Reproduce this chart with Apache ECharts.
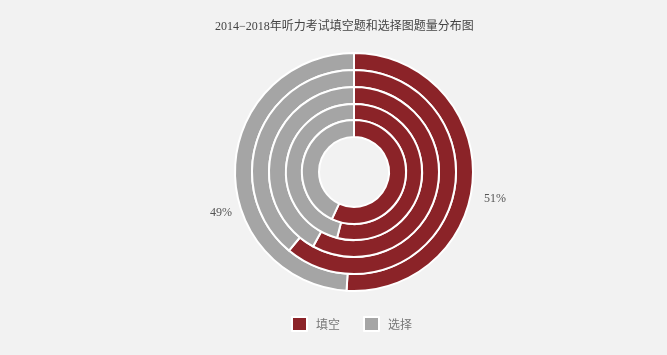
<!DOCTYPE html>
<html>
<head>
<meta charset="utf-8">
<script src="https://cdn.jsdelivr.net/npm/echarts@6/dist/echarts.min.js"></script>
<style>
html,body{margin:0;padding:0;background:#f2f2f2;}
#main{width:667px;height:355px;}
</style>
</head>
<body>
<div id="main"></div>
<script>
// Data (outer ring to inner ring)
const categories = ['填空', '选择'];
const ringNames = ['环1', '环2', '环3', '环4', '环5'];
const fillBlank = [51, 61, 58, 54, 57];
const choice = [49, 39, 42, 46, 43];

const colors = ['#8b2328', '#a5a5a5'];
const radii = [[102, 119], [85, 102], [68, 85], [52, 68], [35, 52]];
const labelDx = [-4, 12];
const labelDy = [23, 45];

const series = ringNames.map(function (name, i) {
  return {
    name: name,
    type: 'pie',
    center: [354, 172],
    radius: radii[i],
    startAngle: 90,
    clockwise: true,
    silent: true,
    itemStyle: { borderColor: '#ffffff', borderWidth: 2 },
    label: i === 0 ? {
      show: true,
      position: 'outside',
      formatter: '{d}%',
      fontFamily: 'Liberation Serif',
      fontSize: 12,
      color: '#555555'
    } : { show: false },
    labelLine: { show: false, length: 5, length2: 5 },
    labelLayout: i === 0 ? function (p) {
      return { dx: labelDx[p.dataIndex], dy: labelDy[p.dataIndex] };
    } : undefined,
    data: categories.map(function (c, k) {
      return { name: c, value: k === 0 ? fillBlank[i] : choice[i] };
    })
  };
});

const chart = echarts.init(document.getElementById('main'));
chart.setOption({
  backgroundColor: '#f2f2f2',
  color: colors,
  animation: false,
  title: {
    text: '2014−2018年听力考试填空题和选择图题量分布图',
    left: 210,
    top: 16,
    textStyle: {
      fontFamily: 'Liberation Serif, Noto Sans CJK SC',
      fontSize: 12,
      fontWeight: 'normal',
      color: '#444444'
    }
  },
  legend: {
    data: categories,
    bottom: 18,
    left: 286,
    itemWidth: 15,
    itemHeight: 14,
    itemGap: 23,
    icon: 'rect',
    textStyle: {
      fontFamily: 'Noto Sans CJK SC',
      fontSize: 12,
      color: '#777777',
      padding: [0, 0, 0, 4]
    }
  },
  series: series
});
</script>
</body>
</html>
